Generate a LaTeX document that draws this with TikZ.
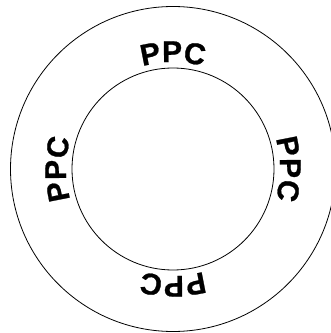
\documentclass[tikz,border=0pt]{standalone}
\usepackage{fontspec}
\usetikzlibrary{decorations.text}
\newfontfamily\ringfont[BoldFeatures={FakeBold=0.8}]{Liberation Sans}

\begin{document}
\begin{tikzpicture}[
        x=1pt, y=1pt,
        ring/.style={line width=0.8pt},
        lbl/.style={decorate, decoration={text along path, text align=center,
            text={|\ringfont\bfseries\fontsize{30pt}{30pt}\selectfont|PPC}}}
    ]
    \useasboundingbox (0,0) rectangle (331,333);

    % centre of both rings
    \coordinate (ctr) at (173,164);

    % outer and inner ring
    \draw[ring] (ctr) circle[radius=162.5pt];
    \draw[ring] (ctr) circle[radius=101pt];

    % labels, running clockwise between the rings
    \foreach \a in {90, 0, -90, -180}
    {
        \path[lbl, shift={(ctr)}] ({\a+40}:107pt) arc[start angle=\a+40, end angle=\a-40, radius=107pt];
    }

\end{tikzpicture}
\end{document}
